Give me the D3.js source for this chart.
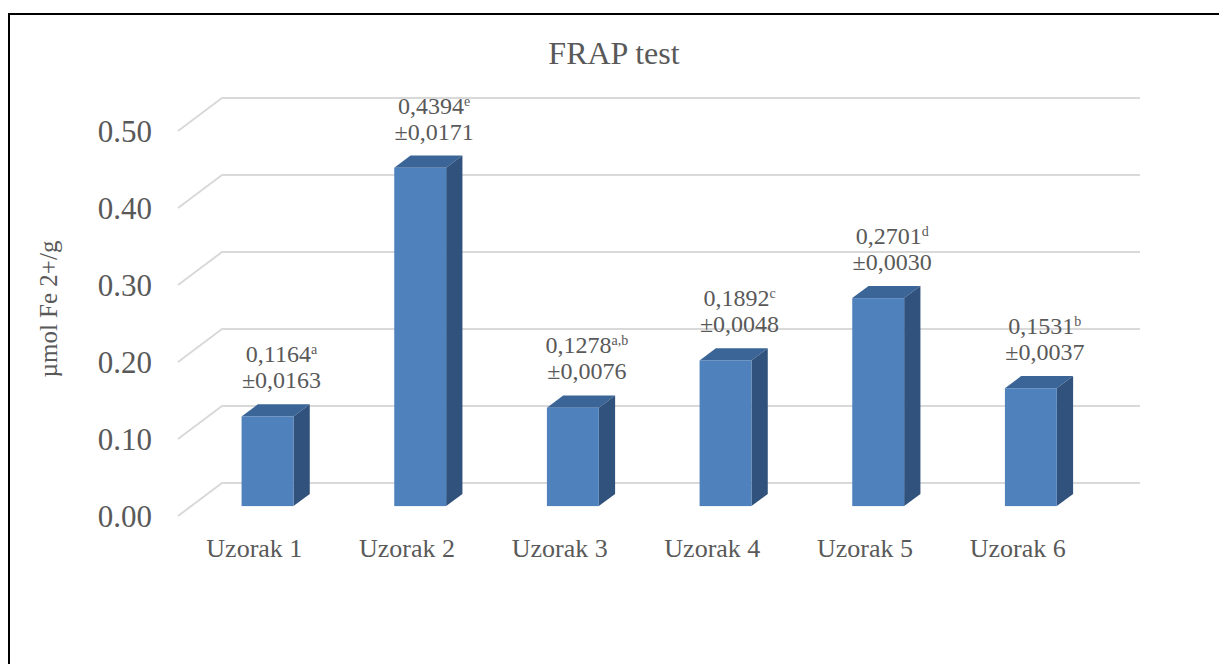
<!DOCTYPE html>
<html>
<head>
<meta charset="utf-8">
<script src="https://cdn.jsdelivr.net/npm/d3@7"></script>
<style>
  body { margin: 0; background: #fff; }
  text { font-family: "Liberation Serif", "Times New Roman", serif; fill: #595959; }
</style>
</head>
<body>
<div id="svg-container"></div>
<script>
// data
const categories = ["Uzorak 1", "Uzorak 2", "Uzorak 3", "Uzorak 4", "Uzorak 5", "Uzorak 6"];
const values = [0.1164, 0.4394, 0.1278, 0.1892, 0.2701, 0.1531];
const valueLabels = ["0,1164", "0,4394", "0,1278", "0,1892", "0,2701", "0,1531"];
const letters = ["a", "e", "a,b", "c", "d", "b"];
const sdLabels = ["±0,0163", "±0,0171", "±0,0076", "±0,0048", "±0,0030", "±0,0037"];
const yTicks = [0, 0.1, 0.2, 0.3, 0.4, 0.5];

const width = 1219, height = 664;
const svg = d3.select("#svg-container").append("svg")
  .attr("width", width).attr("height", height);

// 3d 깊이
const depthX = 44, depthY = -33;
const z1 = 0.3, z2 = 0.67;

const xScale = d3.scaleBand().domain(categories).range([178, 1094]).padding(0);
const yScale = d3.scaleLinear().domain([0, 0.5]).range([516, 131]);
const barW = xScale.bandwidth() * 0.34;

// frame
svg.append("path")
  .attr("d", `M9,${height} L9,14 L${width},14`)
  .attr("fill", "none").attr("stroke", "#000").attr("stroke-width", 2);

// title
svg.append("text").attr("x", 614).attr("y", 53)
  .attr("text-anchor", "middle").attr("dominant-baseline", "central")
  .style("font-size", "32px").text("FRAP test");

// gridlines (floor + back wall)
const x0 = xScale.range()[0], x1 = xScale.range()[1];
svg.append("g").selectAll("path").data(yTicks).join("path")
  .attr("d", d => {
    const y = yScale(d);
    return `M${x0},${y} L${x0 + depthX},${y + depthY} L${x1 + depthX + 2},${y + depthY}`;
  })
  .attr("fill", "none").attr("stroke", "#d9d9d9").attr("stroke-width", 2);

// y axis labels
svg.append("g").selectAll("text").data(yTicks).join("text")
  .attr("x", 152).attr("y", d => yScale(d))
  .attr("text-anchor", "end").attr("dominant-baseline", "central")
  .style("font-size", "31px").text(d => d3.format(".2f")(d));

svg.append("text")
  .attr("transform", "translate(48,309) rotate(-90)")
  .attr("text-anchor", "middle").attr("dominant-baseline", "central")
  .style("font-size", "25px").text("µmol Fe 2+/g");

// bars
const bars = svg.append("g").selectAll("g").data(values).join("g");
const fx = (d, i) => xScale(categories[i]) + (xScale.bandwidth() - barW) / 2;

bars.each(function (d, i) {
  const g = d3.select(this);
  const left = fx(d, i) + depthX * z1, right = left + barW;
  const bottom = yScale(0) + depthY * z1, top = yScale(d) + depthY * z1;
  const ddx = depthX * (z2 - z1), ddy = depthY * (z2 - z1);
  // top
  g.append("path")
    .attr("d", `M${left},${top} L${left + ddx},${top + ddy} L${right + ddx},${top + ddy} L${right},${top} Z`)
    .attr("fill", "#3b6597");
  // side
  g.append("path")
    .attr("d", `M${right},${top} L${right + ddx},${top + ddy} L${right + ddx},${bottom + ddy} L${right},${bottom} Z`)
    .attr("fill", "#30527c");
  // front
  g.append("rect")
    .attr("x", left).attr("y", top).attr("width", barW).attr("height", bottom - top)
    .attr("fill", "#4f81bd");
});

// value labels
const labels = svg.append("g").selectAll("text").data(values).join("text")
  .attr("text-anchor", "middle")
  .style("font-size", "24px");

labels.each(function (d, i) {
  const t = d3.select(this);
  const cx = fx(d, i) + depthX * z1 + barW / 2 + 14;
  const yTop = yScale(d) + depthY * z2;
  const l1 = t.append("tspan").attr("x", cx).attr("y", yTop - 42);
  l1.append("tspan").text(valueLabels[i]);
  l1.append("tspan").attr("dy", -8).style("font-size", "14px").text(letters[i]);
  t.append("tspan").attr("x", cx).attr("y", yTop - 16).text(sdLabels[i]);
});

// category labels
svg.append("g").selectAll("text").data(categories).join("text")
  .attr("x", d => xScale(d) + xScale.bandwidth() / 2)
  .attr("y", 548)
  .attr("text-anchor", "middle").attr("dominant-baseline", "central")
  .style("font-size", "26px").text(d => d);
</script>
</body>
</html>
